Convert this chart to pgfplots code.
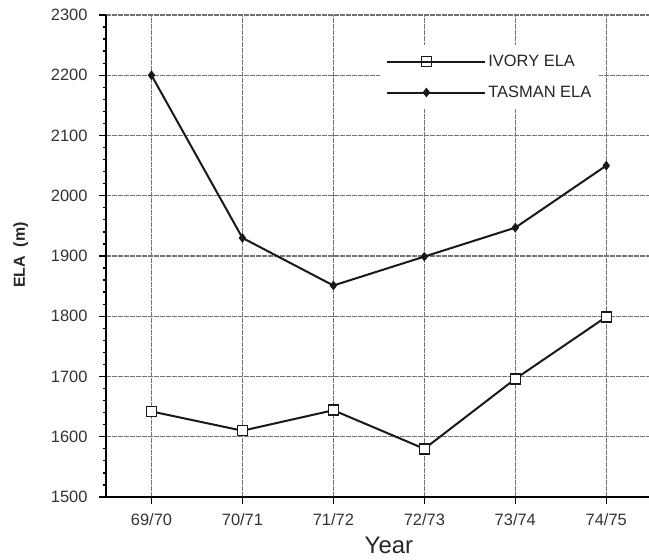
\documentclass[border=0pt]{standalone}
\usepackage{fontspec}
\setmainfont{Liberation Sans}
\usepackage{pgfplots}
\pgfplotsset{compat=1.18}

\begin{document}
\begin{tikzpicture}
\begin{axis}[
  name=ax,
  scale only axis,
  width=543bp, height=482bp,
  xmin=-0.5, xmax=5.47,
  ymin=1500, ymax=2300,
  axis x line=bottom, axis y line=left,
  axis line style={-, line width=2.2bp, black},
  xtick={0,1,2,3,4,5},
  xticklabels={69/70,70/71,71/72,72/73,73/74,74/75},
  ytick={1500,1600,...,2300},
  minor y tick num=4,
  tick align=outside,
  major tick length=7bp,
  minor tick length=3bp,
  every tick/.style={black, line width=1.3bp},
  grid=major,
  major grid style={black!55, line width=1.2bp, dash pattern=on 5bp off 1bp},
  /pgf/number format/assume math mode=true,
  /pgf/number format/1000 sep={},
  ticklabel style={font=\fontsize{16.5}{18}\selectfont, text=black!80},
  xticklabel style={yshift=-6bp},
  yticklabel style={xshift=-8bp},
  xlabel={Year},
  xlabel style={font=\fontsize{24}{26}\selectfont, text=black!85, at={(axis description cs:0.521,0)}, anchor=north, yshift=-37bp},
  ylabel={ELA\ \ (m)},
  ylabel style={font=\bfseries\fontsize{16}{18}\selectfont, text=black!85, at={(axis description cs:-0.157,0.502)}, anchor=center},
  legend style={at={(axis description cs:0.505,0.938)}, anchor=north west,
    fill=white, draw=none, font=\fontsize{16.5}{18}\selectfont, text=black!85,
    row sep=14bp, inner xsep=6bp, inner ysep=8bp},
  legend cell align=left,
  legend image code/.code={
    \draw[mark repeat=2, mark phase=2, #1] plot coordinates {(0bp,0bp) (39bp,0bp) (78bp,0bp)};
    \path (0bp,0bp) -- (98bp,0bp);
  },
]
% Ivory Glacier equilibrium line altitude
\addplot[black!90, line width=2bp, mark=square*, mark size=5bp, mark options={fill=white, line width=1.5bp}]
  coordinates {(0,1642) (1,1610) (2,1644) (3,1580) (4,1696) (5,1799)};
\addlegendentry{IVORY ELA}
% Tasman Glacier equilibrium line altitude
\addplot[black!90, line width=2bp, mark=diamond*, mark size=4.5bp, mark options={line width=0.5bp}]
  coordinates {(0,2200) (1,1930) (2,1851) (3,1899) (4,1947) (5,2050)};
\addlegendentry{TASMAN ELA}
\end{axis}
\pgfresetboundingbox
\path ([xshift=-106bp, yshift=-63bp] ax.south west) rectangle ([yshift=15bp] ax.north east);
\end{tikzpicture}
\end{document}
